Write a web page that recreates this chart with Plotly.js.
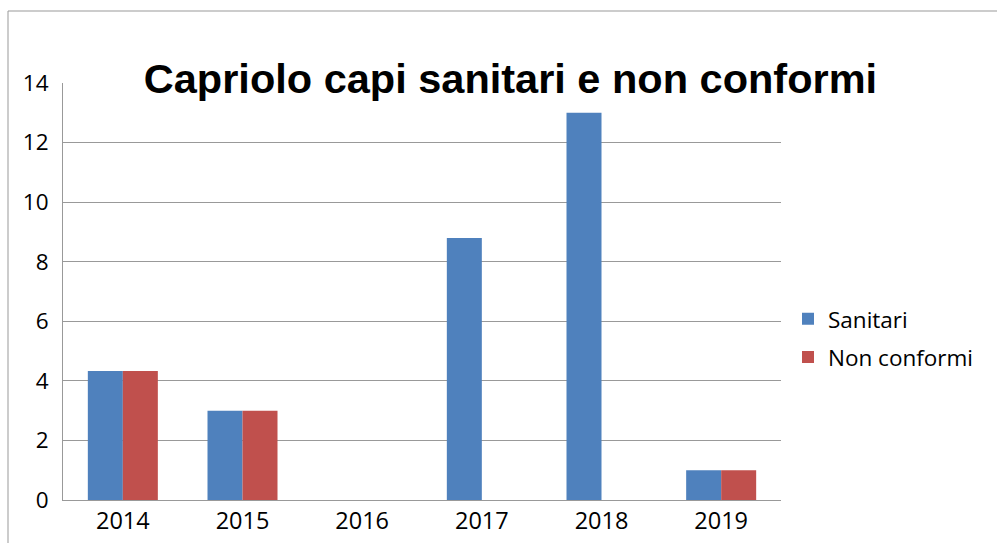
<!DOCTYPE html>
<html>
<head>
<meta charset="utf-8">
<script src="https://cdn.plot.ly/plotly-3.0.1.min.js"></script>
<style>html,body{margin:0;padding:0;background:#fff;}#chart{width:997px;height:543px;}</style>
</head>
<body>
<div id="chart"></div>
<script>
const years = ["2014", "2015", "2016", "2017", "2018", "2019"];
const sanitari = [4.33, 3, 0, 8.8, 13, 1];
const nonConformi = [4.33, 3, 0, 0, 0, 1];
const yTicks = [0, 2, 4, 6, 8, 10, 12, 14];

const traces = [
  {type: "bar", name: "Sanitari", legendgroup: "a", x: years, y: sanitari, marker: {color: "#4F81BD"}},
  {type: "bar", name: "Non conformi", legendgroup: "b", x: years, y: nonConformi, marker: {color: "#C0504D"}}
];

const layout = {
  width: 997, height: 543,
  margin: {l: 63, r: 216, t: 83, b: 43},
  paper_bgcolor: "#fff", plot_bgcolor: "#fff",
  font: {family: "Open Sans, sans-serif", color: "#000", size: 23},
  barmode: "group", bargap: 0.415, bargroupgap: 0,
  showlegend: true,
  legend: {x: 1 + 7/718, xanchor: "left", y: 0.388, yanchor: "middle", font: {size: 22.5}, tracegroupgap: 6, itemwidth: 30},
  title: {text: "<b>Capriolo capi sanitari e non conformi</b>", font: {family: "Liberation Sans, sans-serif", size: 41.5, color: "#000"},
          x: 0.512, xanchor: "center", xref: "container", y: 1 - 78/543, yanchor: "middle", yref: "container"},
  xaxis: {showline: true, linecolor: "#999", linewidth: 1, ticks: "", showgrid: false, tickfont: {size: 23.5}, fixedrange: true},
  yaxis: {range: [0, 14], tickvals: yTicks, showline: true, linecolor: "#999", linewidth: 1, showgrid: true, gridcolor: "#999", gridwidth: 1,
          zeroline: false, ticks: "", ticklabelstandoff: 9, tickfont: {size: 22.5}, fixedrange: true},
  shapes: [{type: "rect", xref: "paper", yref: "paper", x0: (8-63)/718, x1: (1010-63)/718, y0: (500-560)/417, y1: (500-11)/417,
            line: {color: "#999", width: 1}, fillcolor: "rgba(0,0,0,0)", layer: "below"}]
};

Plotly.newPlot("chart", traces, layout, {displayModeBar: false, staticPlot: true});
</script>
</body>
</html>
